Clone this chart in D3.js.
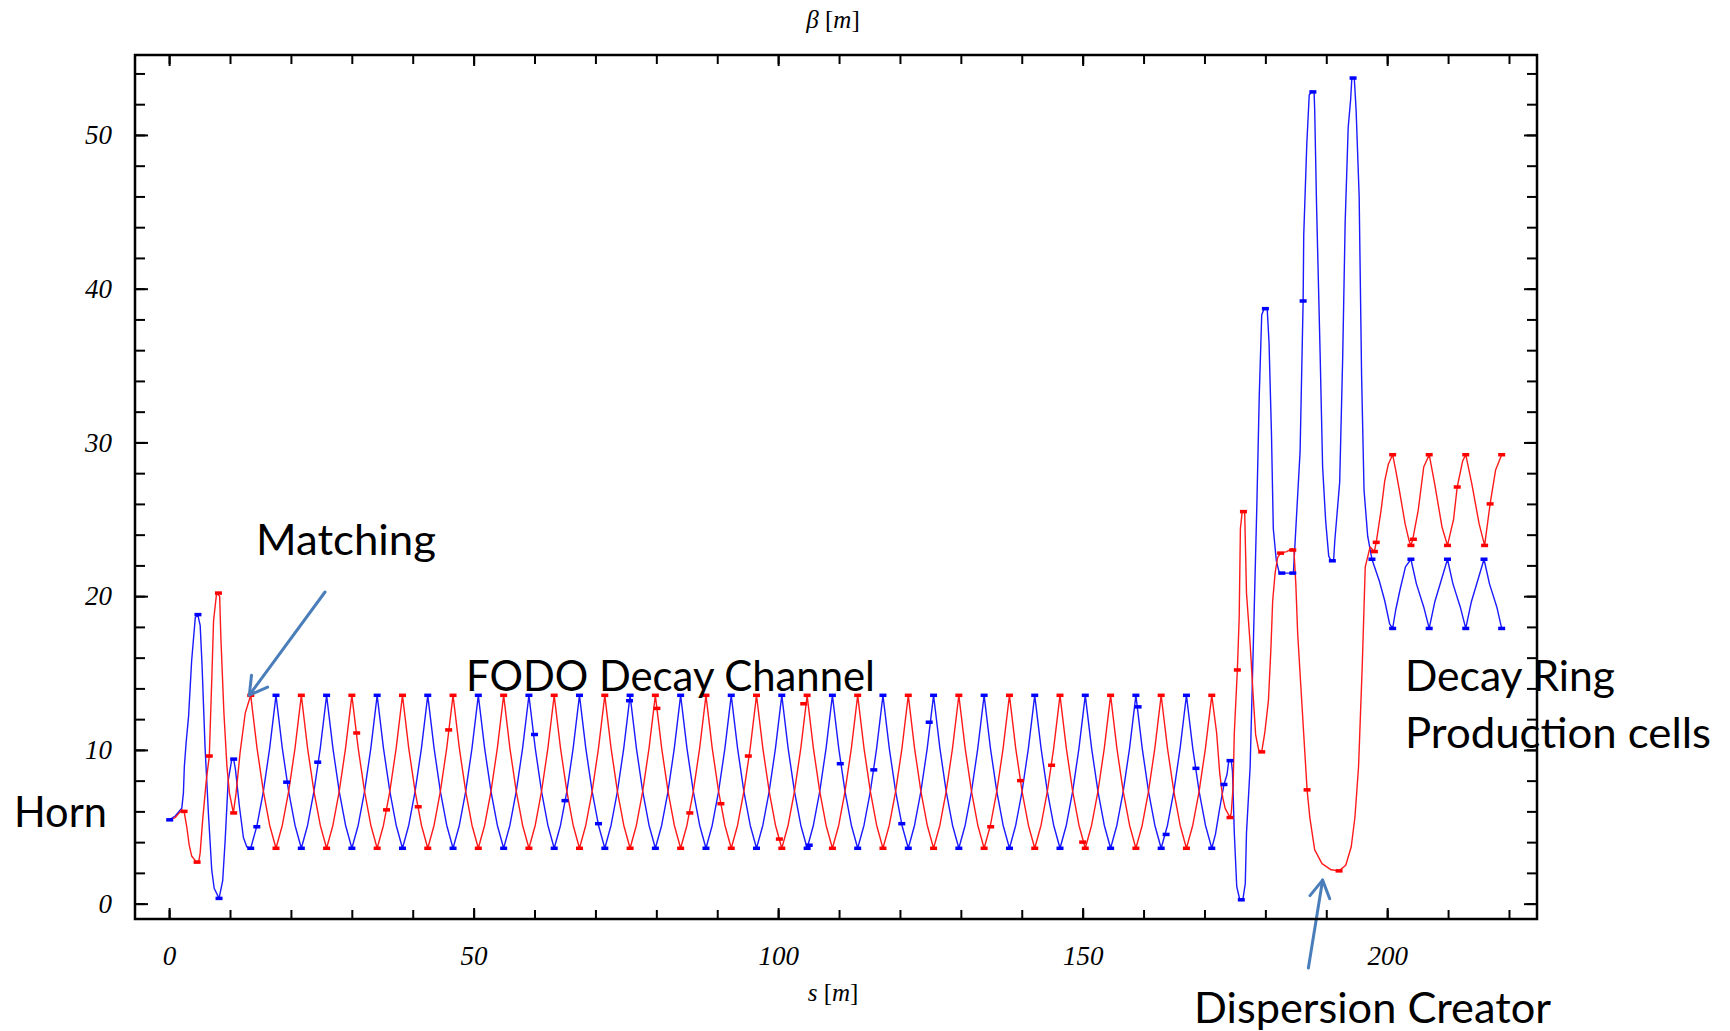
<!DOCTYPE html>
<html><head><meta charset="utf-8">
<script src="https://cdn.jsdelivr.net/npm/d3@7"></script>
<style>html,body{margin:0;padding:0;background:#fff;} svg{display:block;}</style>
</head><body>
<svg id="chart" width="1730" height="1031"></svg>
<script>
// ---------------- DATA ----------------
// Horn + matching section
const sRedMatch    = [0.0,1.0,2.08,2.46,2.9,3.3,3.7,4.5,4.9,5.1,5.5,6.1,6.6,7.0,7.3,7.8,8.3,8.5,9.0,9.5,9.9,10.55,11.0,11.65,12.5,13.40];
const betaRedMatch = [5.45,5.6,6.1,6.0,5.0,3.8,3.1,2.7,2.8,3.3,5.4,8.0,9.6,14.5,18.4,20.2,20.0,17.3,12.4,8.9,7.2,5.9,7.2,9.8,12.4,13.55];
const sBlueMatch    = [0.0,1.0,2.08,2.35,2.5,2.8,3.2,3.7,4.3,4.7,5.1,5.4,5.9,6.45,7.0,7.4,8.2,8.8,9.2,9.7,10.3,10.6,10.9,11.55,12.2,12.75,13.40];
const betaBlueMatch = [5.45,5.7,6.2,7.2,8.9,10.5,12.2,15.8,18.6,18.8,18.1,15.6,10.2,5.9,2.2,1.0,0.34,1.5,4.1,8.0,9.4,9.4,8.7,6.3,4.3,3.7,3.6];

// FODO decay channel (shared s positions for both planes)
const sFodo = [
 13.40,14.44,15.48,16.51,17.55,18.59,19.63,20.67,
 21.71,22.74,23.78,24.82,25.86,26.90,27.93,28.97,
 30.01,31.05,32.09,33.12,34.16,35.20,36.24,37.28,
 38.32,39.35,40.39,41.43,42.47,43.51,44.54,45.58,
 46.62,47.66,48.70,49.73,50.77,51.81,52.85,53.89,
 54.93,55.96,57.00,58.04,59.08,60.12,61.15,62.19,
 63.23,64.27,65.31,66.34,67.38,68.42,69.46,70.50,
 71.54,72.57,73.61,74.65,75.69,76.73,77.76,78.80,
 79.84,80.88,81.92,82.95,83.99,85.03,86.07,87.11,
 88.15,89.18,90.22,91.26,92.30,93.34,94.37,95.41,
 96.45,97.49,98.53,99.56,100.60,101.64,102.68,103.72,
 104.76,105.79,106.83,107.87,108.91,109.95,110.98,112.02,
 113.06,114.10,115.14,116.17,117.21,118.25,119.29,120.33,
 121.37,122.40,123.44,124.48,125.52,126.56,127.59,128.63,
 129.67,130.71,131.75,132.78,133.82,134.86,135.90,136.94,
 137.98,139.01,140.05,141.09,142.13,143.17,144.20,145.24,
 146.28,147.32,148.36,149.39,150.43,151.47,152.51,153.55,
 154.59,155.62,156.66,157.70,158.74,159.78,160.81,161.85,
 162.89,163.93,164.97,166.00,167.04,168.08,169.12,170.16,
 171.20];
const betaRedFodo = [
 13.55,10.1,7.3,5.1,3.6,5.1,7.3,10.1,
 13.55,10.1,7.3,5.1,3.6,5.1,7.3,10.1,
 13.55,10.1,7.3,5.1,3.6,5.1,7.3,10.1,
 13.55,10.1,7.3,5.1,3.6,5.1,7.3,10.1,
 13.55,10.1,7.3,5.1,3.6,5.1,7.3,10.1,
 13.55,10.1,7.3,5.1,3.6,5.1,7.3,10.1,
 13.55,10.1,7.3,5.1,3.6,5.1,7.3,10.1,
 13.55,10.1,7.3,5.1,3.6,5.1,7.3,10.1,
 13.55,10.1,7.3,5.1,3.6,5.1,7.3,10.1,
 13.55,10.1,7.3,5.1,3.6,5.1,7.3,10.1,
 13.55,10.1,7.3,5.1,3.6,5.1,7.3,10.1,
 13.55,10.1,7.3,5.1,3.6,5.1,7.3,10.1,
 13.55,10.1,7.3,5.1,3.6,5.1,7.3,10.1,
 13.55,10.1,7.3,5.1,3.6,5.1,7.3,10.1,
 13.55,10.1,7.3,5.1,3.6,5.1,7.3,10.1,
 13.55,10.1,7.3,5.1,3.6,5.1,7.3,10.1,
 13.55,10.1,7.3,5.1,3.6,5.1,7.3,10.1,
 13.55,10.1,7.3,5.1,3.6,5.1,7.3,10.1,
 13.55,10.1,7.3,5.1,3.6,5.1,7.3,10.1,
 13.55];
const betaBlueFodo = [
 3.6,5.1,7.3,10.1,13.55,10.1,7.3,5.1,
 3.6,5.1,7.3,10.1,13.55,10.1,7.3,5.1,
 3.6,5.1,7.3,10.1,13.55,10.1,7.3,5.1,
 3.6,5.1,7.3,10.1,13.55,10.1,7.3,5.1,
 3.6,5.1,7.3,10.1,13.55,10.1,7.3,5.1,
 3.6,5.1,7.3,10.1,13.55,10.1,7.3,5.1,
 3.6,5.1,7.3,10.1,13.55,10.1,7.3,5.1,
 3.6,5.1,7.3,10.1,13.55,10.1,7.3,5.1,
 3.6,5.1,7.3,10.1,13.55,10.1,7.3,5.1,
 3.6,5.1,7.3,10.1,13.55,10.1,7.3,5.1,
 3.6,5.1,7.3,10.1,13.55,10.1,7.3,5.1,
 3.6,5.1,7.3,10.1,13.55,10.1,7.3,5.1,
 3.6,5.1,7.3,10.1,13.55,10.1,7.3,5.1,
 3.6,5.1,7.3,10.1,13.55,10.1,7.3,5.1,
 3.6,5.1,7.3,10.1,13.55,10.1,7.3,5.1,
 3.6,5.1,7.3,10.1,13.55,10.1,7.3,5.1,
 3.6,5.1,7.3,10.1,13.55,10.1,7.3,5.1,
 3.6,5.1,7.3,10.1,13.55,10.1,7.3,5.1,
 3.6,5.1,7.3,10.1,13.55,10.1,7.3,5.1,
 3.6];

// Dispersion creator + decay ring production cells
const sRedRing = [171.20,172.0,172.5,173.0,173.4,174.2,174.4,174.7,174.9,175.4,175.7,175.9,176.2,176.6,176.9,177.5,178.0,178.4,178.9,179.4,179.9,180.5,180.9,181.2,181.6,182.0,182.5,183.5,184.4,184.7,185.0,185.3,185.8,186.85,187.3,188.1,189.3,190.8,192.1,193.2,194.1,194.7,195.3,195.9,196.4,197.2,197.9,198.2,199.0,199.6,200.2,200.9,201.4,202.0,202.95,203.6,203.9,204.2,205.1,206.0,206.9,207.8,209.0,209.9,210.9,211.5,212.4,212.9,213.9,215.1,216.0,216.9,217.8,218.8];
const betaRedRing = [13.55,11.1,8.5,6.9,6.2,5.6,5.9,7.6,11.1,15.2,18.6,24.4,25.5,25.5,20.2,16.9,13.5,11.0,10.0,9.87,11.1,13.2,16.5,19.7,21.5,22.5,22.8,22.9,23.1,22.9,20.8,17.6,14.3,7.4,5.6,3.5,2.6,2.2,2.13,2.5,3.7,5.6,8.9,15.4,21.9,23.2,22.9,23.5,25.6,27.5,28.6,29.2,28.2,26.9,24.7,23.6,23.3,23.7,25.6,28.4,29.2,27.3,24.5,23.3,25.0,27.1,28.8,29.2,27.3,24.7,23.3,26.0,28.2,29.2];
const sBlueRing = [171.20,171.8,172.5,173.2,173.7,174.0,174.4,174.6,174.9,175.3,175.8,176.3,176.7,176.9,177.5,178.0,178.6,179.0,179.4,179.8,180.3,180.6,181.0,181.3,181.8,182.3,184.6,185.1,185.7,186.2,186.3,186.8,187.2,187.6,188.0,188.1,188.4,189.0,189.4,189.9,190.4,190.8,191.2,191.4,192.2,192.7,193.1,193.6,194.0,194.2,194.6,194.9,195.4,195.8,196.2,196.8,197.5,198.7,199.6,200.4,200.9,201.4,202.1,203.0,203.9,204.8,206.0,206.9,207.8,209.0,209.9,210.8,212.0,212.9,213.8,215.0,215.9,216.8,218.0,218.8];
const betaBlueRing = [3.6,4.5,6.2,7.75,8.4,9.3,9.3,8.6,4.6,1.1,0.25,0.25,1.3,4.6,8.9,16.5,25.9,33.1,38.3,38.7,38.7,36.5,30.6,24.4,22.3,21.5,21.5,25.1,29.4,39.2,43.5,49.4,52.6,52.8,52.8,51.6,45.5,35.6,28.4,24.9,22.6,22.3,22.3,23.6,27.4,35.6,44.3,50.5,52.3,53.7,53.7,51.6,46.0,34.3,26.9,23.9,22.4,21.0,19.7,18.2,17.9,19.1,20.4,21.9,22.4,20.8,19.3,17.9,19.6,21.2,22.4,20.8,19.3,17.9,19.6,21.2,22.4,20.8,19.3,17.9];

// element markers (small dashes on the curves)
const sRedMarks = [2.46,4.6,6.6,8.1,10.6,
 13.40,21.71,30.01,38.32,46.62,54.93,63.23,71.54,79.84,88.15,96.45,104.76,113.06,121.37,129.67,137.98,146.28,154.59,162.89,171.20,
 17.55,25.86,34.16,42.47,50.77,59.08,67.38,75.69,83.99,92.30,100.60,108.91,117.21,125.52,133.82,142.13,150.43,158.74,167.04,
 30.8,35.7,40.9,45.9,80.1,85.5,90.6,95.1,100.2,104.2,134.9,139.8,144.9,150.0,
 174.2,175.4,176.4,179.4,182.5,184.5,186.85,192.1,197.9,198.2,
 200.9,206.9,212.9,218.8,203.9,209.9,216.0,204.3,211.5,216.9];
const betaRedMarks = [6.0,2.7,9.6,20.2,5.9,
 13.55,13.55,13.55,13.55,13.55,13.55,13.55,13.55,13.55,13.55,13.55,13.55,13.55,13.55,13.55,13.55,13.55,13.55,13.55,13.55,
 3.6,3.6,3.6,3.6,3.6,3.6,3.6,3.6,3.6,3.6,3.6,3.6,3.6,3.6,3.6,3.6,3.6,3.6,3.6,
 11.1,6.1,6.3,11.3,12.7,5.9,6.5,9.6,4.2,13.0,5.0,8.0,9.0,4.0,
 5.6,15.2,25.5,9.87,22.8,23.0,7.4,2.13,22.9,23.5,
 29.2,29.2,29.2,29.2,23.3,23.3,23.3,23.7,27.1,26.0];
const sBlueMarks = [0.1,4.74,8.2,10.6,14.4,
 17.55,25.86,34.16,42.47,50.77,59.08,67.38,75.69,83.99,92.30,100.60,108.91,117.21,125.52,133.82,142.13,150.43,158.74,167.04,
 13.40,21.71,30.01,38.32,46.62,54.93,63.23,71.54,79.84,88.15,96.45,104.76,113.06,121.37,129.67,137.98,146.28,154.59,162.89,171.20,
 19.3,24.4,60.0,65.0,70.5,75.6,105.1,110.2,115.7,120.3,124.8,159.1,163.7,168.6,
 173.2,174.2,176.05,180.0,182.7,184.5,186.2,187.8,191.0,194.4,197.5,
 200.9,206.9,212.9,218.8,203.9,209.9,215.9];
const betaBlueMarks = [5.45,18.8,0.34,9.4,5.0,
 13.55,13.55,13.55,13.55,13.55,13.55,13.55,13.55,13.55,13.55,13.55,13.55,13.55,13.55,13.55,13.55,13.55,13.55,13.55,
 3.6,3.6,3.6,3.6,3.6,3.6,3.6,3.6,3.6,3.6,3.6,3.6,3.6,3.6,3.6,3.6,3.6,3.6,3.6,3.6,
 7.9,9.2,11.0,6.7,5.2,13.2,3.8,9.1,8.7,5.2,11.8,12.8,4.5,8.8,
 7.75,9.3,0.25,38.7,21.5,21.5,39.2,52.8,22.3,53.7,22.4,
 17.9,17.9,17.9,17.9,22.4,22.4,22.4];

// axes
const xTicks  = [0,10,20,30,40,50,60,70,80,90,100,110,120,130,140,150,160,170,180,190,200,210,220];
const xLabels = [0,50,100,150,200];
const yTicks  = [0,2,4,6,8,10,12,14,16,18,20,22,24,26,28,30,32,34,36,38,40,42,44,46,48,50,52,54];
const yLabels = [0,10,20,30,40,50];

// annotations
const annotationTexts = [
  {text:"Matching", x:256, y:555, len:180},
  {text:"Horn", x:14, y:827, len:93},
  {text:"FODO Decay Channel", x:466, y:691, len:409},
  {text:"Decay Ring", x:1405, y:691, len:210},
  {text:"Production cells", x:1405, y:748, len:306},
  {text:"Dispersion Creator", x:1194, y:1023, len:357}
];
const arrowTails = [[25.6,20.27],[187.06,-4.19]];
const arrowTips  = [[13.17,13.56],[189.4,1.53]];

// ---------------- DRAWING ----------------
const svg = d3.select('#chart');
const L = 135, R = 1537, T = 55, B = 919;
const x = d3.scaleLinear().domain([-5.6, 224.6]).range([L, R]);
const y = d3.scaleLinear().domain([-1.0, 55.2]).range([B, T]);
const zip = (a,b) => a.map((v,i)=>[v,b[i]]);

const redData  = zip(sRedMatch,betaRedMatch).concat(zip(sFodo,betaRedFodo), zip(sRedRing,betaRedRing));
const blueData = zip(sBlueMatch,betaBlueMatch).concat(zip(sFodo,betaBlueFodo), zip(sBlueRing,betaBlueRing));
const line = d3.line().x(d=>x(d[0])).y(d=>y(d[1]));

const plot = svg.append('g');
plot.append('path').datum(blueData).attr('d', line)
  .attr('fill','none').attr('stroke','#1a1aff').attr('stroke-width',1.4).attr('stroke-linejoin','round');
plot.append('path').datum(redData).attr('d', line)
  .attr('fill','none').attr('stroke','#ff1a1a').attr('stroke-width',1.4).attr('stroke-linejoin','round');

const mw = 7, mh = 3.5;
plot.selectAll('rect.mb').data(zip(sBlueMarks,betaBlueMarks)).join('rect').attr('class','mb')
  .attr('x',d=>x(d[0])-mw/2).attr('y',d=>y(d[1])-mh/2).attr('width',mw).attr('height',mh).attr('fill','#0000ff');
plot.selectAll('rect.mr').data(zip(sRedMarks,betaRedMarks)).join('rect').attr('class','mr')
  .attr('x',d=>x(d[0])-mw/2).attr('y',d=>y(d[1])-mh/2).attr('width',mw).attr('height',mh).attr('fill','#ff0000');

// annotation texts
svg.append('g').selectAll('text').data(annotationTexts).join('text')
  .attr('x',d=>d.x).attr('y',d=>d.y).attr('textLength',d=>d.len).attr('lengthAdjust','spacingAndGlyphs')
  .attr('font-family',"Lato, 'Open Sans', sans-serif").attr('font-size',42).attr('fill','#000')
  .text(d=>d.text);

// arrows
const arrowG = svg.append('g').attr('stroke','#4a7ebb').attr('stroke-width',3).attr('stroke-linecap','round').attr('fill','none');
arrowTips.forEach((tip,i)=>{
  const tx = x(tip[0]), ty = y(tip[1]);
  const sx = x(arrowTails[i][0]), sy = y(arrowTails[i][1]);
  const ang = Math.atan2(sy-ty, sx-tx);
  const hl = 20, da = Math.PI/6;
  arrowG.append('line').attr('x1',sx).attr('y1',sy).attr('x2',tx).attr('y2',ty);
  arrowG.append('path').attr('stroke-linejoin','round')
    .attr('d',`M${tx+hl*Math.cos(ang+da)},${ty+hl*Math.sin(ang+da)}L${tx},${ty}L${tx+hl*Math.cos(ang-da)},${ty+hl*Math.sin(ang-da)}`);
});

// frame
svg.append('rect').attr('x',L).attr('y',T).attr('width',R-L).attr('height',B-T)
  .attr('fill','none').attr('stroke','#000').attr('stroke-width',2.5);

function styleAxis(g){
  g.select('.domain').remove();
  g.selectAll('.tick line').attr('stroke','#000').attr('stroke-width',2);
  g.attr('font-family',"'Liberation Serif', 'Times New Roman', serif").attr('font-size',27).attr('font-style','italic');
  g.selectAll('.tick text').attr('fill','#000');
}
const fmt = d3.format('d');
// bottom
svg.append('g').attr('transform',`translate(0,${B})`)
  .call(d3.axisBottom(x).tickValues(xTicks).tickSize(-9).tickSizeOuter(0).tickFormat('')).call(styleAxis);
svg.append('g').attr('transform',`translate(0,${B})`)
  .call(d3.axisBottom(x).tickValues(xLabels).tickSize(-11).tickSizeOuter(0).tickPadding(27).tickFormat(fmt)).call(styleAxis);
// top
svg.append('g').attr('transform',`translate(0,${T})`)
  .call(d3.axisTop(x).tickValues(xTicks).tickSize(-9).tickSizeOuter(0).tickFormat('')).call(styleAxis);
svg.append('g').attr('transform',`translate(0,${T})`)
  .call(d3.axisTop(x).tickValues(xLabels).tickSize(-11).tickSizeOuter(0).tickFormat('')).call(styleAxis);
// left
svg.append('g').attr('transform',`translate(${L},0)`)
  .call(d3.axisLeft(y).tickValues(yTicks).tickSize(-10).tickSizeOuter(0).tickFormat('')).call(styleAxis);
svg.append('g').attr('transform',`translate(${L},0)`)
  .call(d3.axisLeft(y).tickValues(yLabels).tickSize(-13).tickSizeOuter(0).tickPadding(23).tickFormat(fmt)).call(styleAxis);
// right
svg.append('g').attr('transform',`translate(${R},0)`)
  .call(d3.axisRight(y).tickValues(yTicks).tickSize(-10).tickSizeOuter(0).tickFormat('')).call(styleAxis);
svg.append('g').attr('transform',`translate(${R},0)`)
  .call(d3.axisRight(y).tickValues(yLabels).tickSize(-13).tickSizeOuter(0).tickFormat('')).call(styleAxis);

// axis titles
const serif = "'Liberation Serif', 'Times New Roman', serif";
const t1 = svg.append('text').attr('x',(L+R)/2-3).attr('y',28).attr('text-anchor','middle')
  .attr('font-family',serif).attr('font-size',25).attr('fill','#000');
t1.append('tspan').attr('font-style','italic').text('β');
t1.append('tspan').text(' [');
t1.append('tspan').attr('font-style','italic').text('m');
t1.append('tspan').text(']');
const t2 = svg.append('text').attr('x',(L+R)/2-3).attr('y',1001).attr('text-anchor','middle')
  .attr('font-family',serif).attr('font-size',25).attr('fill','#000');
t2.append('tspan').attr('font-style','italic').text('s');
t2.append('tspan').text(' [');
t2.append('tspan').attr('font-style','italic').text('m');
t2.append('tspan').text(']');
</script>
</body></html>
